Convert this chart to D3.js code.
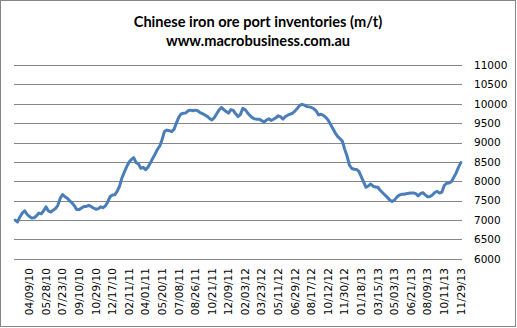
<!DOCTYPE html>
<html>
<head>
<meta charset="utf-8">
<script src="https://cdn.jsdelivr.net/npm/d3@7"></script>
<style>
  body { margin: 0; background: #fff; }
  svg { display: block; }
  .tick-label { font-family: "DejaVu Sans", Verdana, sans-serif; font-size: 10.5px; fill: #000; }
  .title { font-family: Lato, "Open Sans", sans-serif; font-weight: bold; font-size: 14.6px; fill: #000; }
</style>
</head>
<body>
<div id="chart"></div>
<script>
// weekly port inventories (one value per week, first label sits on the 7th point)
var inventories = [
  7000, 6950, 7080, 7180, 7240, 7150, 7090, 7050, 7060, 7110,
  7180, 7160, 7240, 7340, 7235, 7205, 7255, 7295, 7380, 7560,
  7660, 7600, 7560, 7495, 7440, 7365, 7270, 7270, 7310, 7350,
  7350, 7380, 7350, 7310, 7280, 7290, 7340, 7320, 7360, 7460,
  7600, 7645, 7650, 7740, 7870, 8080, 8230, 8370, 8490, 8560,
  8610, 8480, 8450, 8335, 8360, 8300, 8360, 8470, 8590, 8700,
  8820, 8910, 9080, 9290, 9320, 9305, 9280, 9340, 9500, 9650,
  9740, 9755, 9765, 9820, 9835, 9820, 9835, 9820, 9770, 9745,
  9710, 9675, 9620, 9580, 9640, 9740, 9840, 9905, 9850, 9800,
  9760, 9850, 9830, 9740, 9670, 9720, 9880, 9850, 9770, 9700,
  9640, 9610, 9600, 9600, 9565, 9530, 9580, 9615, 9570, 9600,
  9640, 9690, 9660, 9605, 9670, 9705, 9730, 9755, 9810, 9880,
  9960, 9985, 9965, 9930, 9920, 9905, 9870, 9815, 9710, 9730,
  9700, 9650, 9580, 9470, 9360, 9250, 9160, 9100, 9040, 8830,
  8650, 8420, 8330, 8310, 8305, 8255, 8120, 7980, 7845, 7880,
  7930, 7875, 7850, 7845, 7770, 7705, 7645, 7585, 7520, 7480,
  7515, 7590, 7640, 7665, 7665, 7680, 7690, 7700, 7700, 7680,
  7625, 7680, 7705, 7650, 7600, 7605, 7645, 7710, 7740, 7695,
  7720, 7890, 7950, 7955, 7990, 8100, 8210, 8360, 8480
];

// category labels, every 7th week
var dateLabels = ["04/09/10", "05/28/10", "07/23/10", "09/10/10", "10/29/10", "12/17/10",
  "02/11/11", "04/01/11", "05/20/11", "07/08/11", "08/26/11", "10/21/11", "12/09/11",
  "02/03/12", "03/23/12", "05/11/12", "06/29/12", "08/17/12", "10/12/12", "11/30/12",
  "01/18/13", "03/15/13", "05/03/13", "06/21/13", "08/09/13", "10/11/13", "11/29/13"];
var labelStart = 6, labelStep = 7;

var yTicks = [6000, 6500, 7000, 7500, 8000, 8500, 9000, 9500, 10000, 10500, 11000];
var titleLines = ["Chinese iron ore port inventories (m/t)", "www.macrobusiness.com.au"];

var W = 517, H = 328;
var plot = {left: 14, right: 462, top: 65, bottom: 258.8};

var svg = d3.select("#chart").append("svg")
  .attr("width", W)
  .attr("height", H);

// outer chart border
svg.append("rect")
  .attr("x", 0.5).attr("y", 0.5)
  .attr("width", W - 2).attr("height", H - 2)
  .attr("fill", "#fff")
  .attr("stroke", "#868686");

var x = d3.scalePoint()
  .domain(d3.range(inventories.length))
  .range([plot.left, plot.right])
  .padding(0.5);

var y = d3.scaleLinear()
  .domain([6000, 11000])
  .range([plot.bottom, plot.top]);

// gridlines
svg.append("g")
  .selectAll("line")
  .data(yTicks)
  .join("line")
  .attr("x1", plot.left)
  .attr("x2", plot.right)
  .attr("y1", (d) => Math.round(y(d)) + 0.5)
  .attr("y2", (d) => Math.round(y(d)) + 0.5)
  .attr("stroke", "#868686")
  .attr("stroke-width", 1);

// right value axis labels
svg.append("g")
  .selectAll("text")
  .data(yTicks)
  .join("text")
  .attr("class", "tick-label")
  .attr("x", 474)
  .attr("y", (d) => y(d))
  .attr("dy", "0.36em")
  .text((d) => d);

// rotated date labels
svg.append("g")
  .selectAll("text")
  .data(dateLabels)
  .join("text")
  .attr("class", "tick-label")
  .attr("text-anchor", "end")
  .attr("dy", "0.36em")
  .attr("transform", (d, i) => "translate(" + x(labelStart + i * labelStep) + ",268) rotate(-90)")
  .text((d) => d);

var line = d3.line()
  .x((d, i) => x(i))
  .y((d) => y(d));

svg.append("path")
  .datum(inventories)
  .attr("d", line)
  .attr("fill", "none")
  .attr("stroke", "#4a7ebb")
  .attr("stroke-width", 3)
  .attr("stroke-linejoin", "round")
  .attr("stroke-linecap", "round");

svg.selectAll(".title")
  .data(titleLines)
  .join("text")
  .attr("class", "title")
  .attr("x", 258)
  .attr("y", (d, i) => 27 + i * 18.5)
  .attr("text-anchor", "middle")
  .text((d) => d);
</script>
</body>
</html>
